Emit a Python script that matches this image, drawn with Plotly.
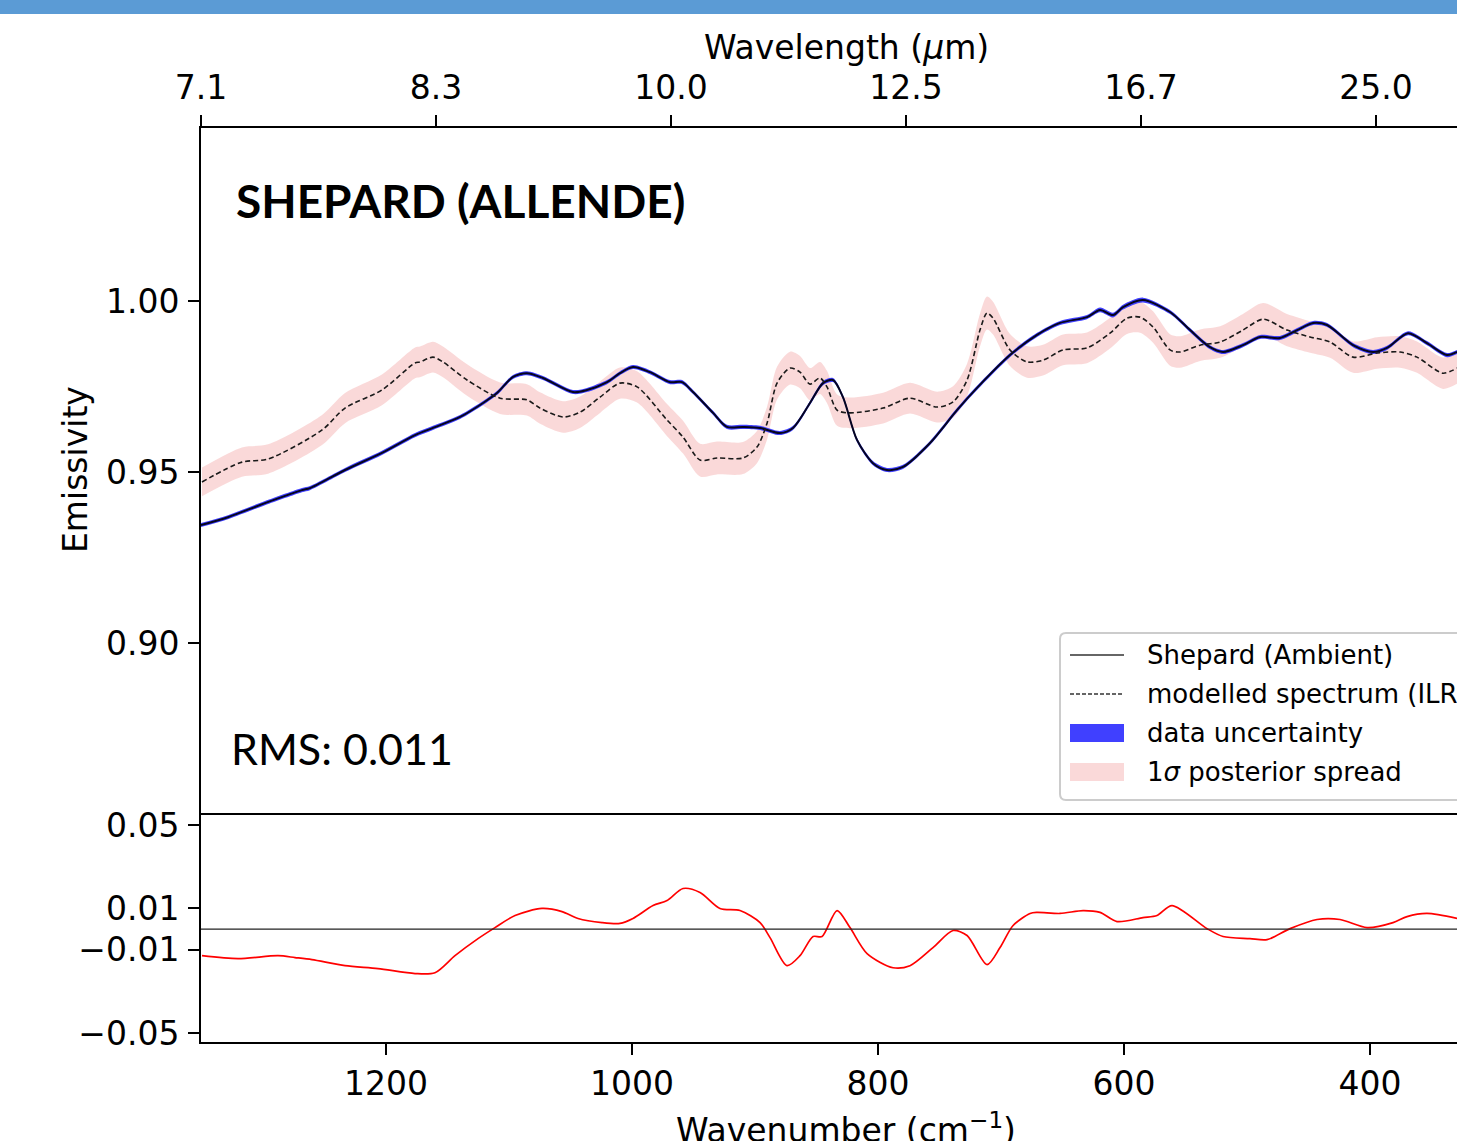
import plotly.graph_objects as go

# ---------------- data ----------------
wn_data = [1350.4, 1328.5, 1298.4, 1268.3, 1261.8, 1233.3, 1203.3, 1176.4, 1161.8, 1139.8,
           1121.1, 1109.8, 1096.7, 1085.4, 1072.4, 1048.0, 1036.6, 1020.3, 1009.8, 999.2,
           985.4, 969.1, 959.3, 950.4, 934.1, 922.8, 909.8, 895.9, 879.7, 869.1,
           855.3, 844.7, 836.6, 828.5, 817.1, 804.1, 792.7, 779.7, 757.7, 735.8,
           719.5, 692.7, 670.7, 652.0, 630.1, 619.5, 608.9, 600.8, 584.6, 562.6,
           546.3, 530.1, 519.5, 503.3, 489.4, 473.2, 459.3, 446.3, 434.9, 413.8,
           397.6, 386.2, 369.1, 353.7, 337.4, 329.3]
emis_data = [0.9345, 0.9368, 0.9409, 0.9447, 0.9453, 0.9506, 0.9556, 0.9608, 0.9629, 0.9661,
             0.9702, 0.9731, 0.9778, 0.9789, 0.9775, 0.9734, 0.9740, 0.9763, 0.9789, 0.9807,
             0.9792, 0.9763, 0.9763, 0.9734, 0.9673, 0.9632, 0.9632, 0.9629, 0.9614, 0.9629,
             0.9702, 0.9760, 0.9769, 0.9719, 0.9594, 0.9526, 0.9506, 0.9515, 0.9585, 0.9681,
             0.9746, 0.9842, 0.9901, 0.9936, 0.9953, 0.9974, 0.9959, 0.9982, 1.0003, 0.9968,
             0.9915, 0.9865, 0.9851, 0.9871, 0.9895, 0.9892, 0.9915, 0.9936, 0.9930, 0.9871,
             0.9851, 0.9863, 0.9906, 0.9877, 0.9842, 0.9851]
data_err = [0.0006, 0.0006, 0.0006, 0.0006, 0.0006, 0.0006, 0.0006, 0.0006, 0.0006, 0.0006,
            0.0006, 0.0006, 0.0006, 0.0006, 0.0006, 0.0006, 0.0006, 0.0006, 0.0006, 0.0006,
            0.0006, 0.0006, 0.0006, 0.0006, 0.0006, 0.0006, 0.0006, 0.0006, 0.0006, 0.0006,
            0.0006, 0.0006, 0.0006, 0.0006, 0.0006, 0.0006, 0.0006, 0.0006, 0.0006, 0.0006,
            0.0006, 0.0006, 0.0006, 0.0006, 0.0006, 0.0007, 0.0007, 0.0007, 0.0007, 0.0006,
            0.0006, 0.0006, 0.0006, 0.0006, 0.0006, 0.0006, 0.0006, 0.0006, 0.0006, 0.0006,
            0.0006, 0.0006, 0.0006, 0.0006, 0.0006, 0.0006]

wn_model = [1349.6, 1317.1, 1295.9, 1252.0, 1233.3, 1203.3, 1176.4, 1172.4, 1161.8, 1153.7,
            1134.1, 1107.3, 1085.4, 1074.8, 1056.1, 1042.3, 1026.0, 1009.8, 995.9, 971.5,
            958.5, 944.7, 930.9, 909.8, 898.4, 890.2, 882.1, 871.5, 863.4, 855.3,
            847.2, 841.5, 833.3, 822.8, 795.9, 774.0, 752.0, 739.0, 727.6, 717.1,
            711.4, 706.5, 692.7, 678.9, 665.9, 649.6, 630.1, 611.4, 597.6, 587.0,
            576.4, 562.6, 554.5, 538.2, 521.9, 503.3, 487.0, 467.5, 448.8, 432.5,
            413.8, 394.3, 375.6, 361.8, 340.7, 329.3]
emis_model = [0.9471, 0.9529, 0.9538, 0.9623, 0.9687, 0.9740, 0.9819, 0.9822, 0.9836, 0.9822,
              0.9769, 0.9716, 0.9711, 0.9687, 0.9661, 0.9675, 0.9719, 0.9760, 0.9749, 0.9652,
              0.9602, 0.9535, 0.9541, 0.9541, 0.9573, 0.9643, 0.9760, 0.9804, 0.9792, 0.9757,
              0.9775, 0.9749, 0.9681, 0.9673, 0.9687, 0.9716, 0.9690, 0.9705, 0.9769, 0.9915,
              0.9965, 0.9950, 0.9857, 0.9822, 0.9827, 0.9857, 0.9863, 0.9906, 0.9950, 0.9953,
              0.9924, 0.9857, 0.9851, 0.9871, 0.9880, 0.9915, 0.9947, 0.9915, 0.9895, 0.9880,
              0.9836, 0.9848, 0.9851, 0.9836, 0.9789, 0.9804]
model_spread = [0.0042, 0.0043, 0.0043, 0.0044, 0.0044, 0.0045, 0.0045, 0.0045, 0.0045, 0.0045,
                0.0046, 0.0046, 0.0046, 0.0046, 0.0046, 0.0046, 0.0046, 0.0046, 0.0046, 0.0047,
                0.0048, 0.0048, 0.0048, 0.0047, 0.0047, 0.0048, 0.0048, 0.0048, 0.0047, 0.0047,
                0.0047, 0.0047, 0.0046, 0.0045, 0.0045, 0.0045, 0.0045, 0.0046, 0.0048, 0.0048,
                0.0048, 0.0048, 0.0047, 0.0046, 0.0045, 0.0045, 0.0045, 0.0045, 0.0046, 0.0046,
                0.0046, 0.0046, 0.0046, 0.0046, 0.0046, 0.0047, 0.0047, 0.0047, 0.0046, 0.0046,
                0.0046, 0.0046, 0.0046, 0.0046, 0.0046, 0.0046]

wn_res = [1349.6, 1320.3, 1287.8, 1274.0, 1260.2, 1233.3, 1206.5, 1176.4, 1160.2, 1143.9,
          1125.2, 1111.4, 1095.1, 1073.2, 1056.9, 1043.9, 1024.4, 1009.8, 999.2, 982.9,
          971.5, 958.5, 944.7, 928.5, 912.2, 895.9, 887.8, 874.0, 863.4, 852.8,
          845.5, 833.3, 822.8, 808.9, 787.8, 774.0, 755.3, 739.0, 727.6, 711.4,
          700.8, 690.2, 676.4, 670.7, 652.0, 633.3, 619.5, 605.7, 584.6, 573.2,
          561.0, 532.5, 519.5, 497.6, 483.7, 465.0, 443.1, 424.4, 402.4, 381.3,
          369.9, 353.7, 329.3]
residual = [-0.0128, -0.0142, -0.0128, -0.0137, -0.0147, -0.0176, -0.0190, -0.0214, -0.0210, -0.0128,
            -0.0046, 0.0007, 0.0065, 0.0099, 0.0084, 0.0051, 0.0031, 0.0027, 0.0051, 0.0113,
            0.0137, 0.0195, 0.0176, 0.0099, 0.0089, 0.0031, -0.0041, -0.0176, -0.0128, -0.0036,
            -0.0036, 0.0089, 0.0007, -0.0118, -0.0186, -0.0176, -0.0089, -0.0007, -0.0031, -0.0171,
            -0.0089, 0.0017, 0.0075, 0.0080, 0.0075, 0.0089, 0.0080, 0.0036, 0.0055, 0.0065,
            0.0113, 0.0002, -0.0036, -0.0046, -0.0051, 0.0002, 0.0046, 0.0046, 0.0007, 0.0031,
            0.0060, 0.0075, 0.0051]

wn_ticks = [1200, 1000, 800, 600, 400]
wl_tick_pos = [1400, 1200, 1000, 800, 600, 400]
wl_tick_text = ["7.1", "8.3", "10.0", "12.5", "16.7", "25.0"]
main_ticks = [0.90, 0.95, 1.00]
main_tick_text = ["0.90", "0.95", "1.00"]
res_ticks = [0.05, 0.01, -0.01, -0.05]
res_tick_text = ["0.05", "0.01", "\u22120.01", "\u22120.05"]

legend_labels = ["Shepard (Ambient)", "modelled spectrum (ILR)", "data uncertainty",
                 "1<i>\u03c3</i> posterior spread"]

# ---------------- figure ----------------
W, H = 1457, 1141
ML, MR, MT, MB = 201, 0, 128, 99
PW, PH = W - ML - MR, H - MT - MB
split = 229 / PH

def px_x(x):
    return (x - ML) / PW

def px_y(y):
    return (H - MB - y) / PH

AX_FONT = dict(family="DejaVu Sans", size=33, color="black")
BLUE_BAND = "rgba(64,64,255,1)"
PINK_BAND = "rgba(240,128,128,0.3)"

fig = go.Figure()

m_lo = [m - s for m, s in zip(emis_model, model_spread)]
m_hi = [m + s for m, s in zip(emis_model, model_spread)]
d_lo = [d - e for d, e in zip(emis_data, data_err)]
d_hi = [d + e for d, e in zip(emis_data, data_err)]

fig.add_trace(go.Scatter(x=wn_model, y=m_lo, mode="lines", line=dict(width=0, shape="spline", smoothing=0.8),
                         showlegend=False, hoverinfo="skip", xaxis="x", yaxis="y"))
fig.add_trace(go.Scatter(x=wn_model, y=m_hi, mode="lines", line=dict(width=0, shape="spline", smoothing=0.8),
                         fill="tonexty", fillcolor=PINK_BAND, showlegend=False, name="1σ posterior spread",
                         xaxis="x", yaxis="y"))
fig.add_trace(go.Scatter(x=wn_data, y=d_lo, mode="lines", line=dict(width=0, shape="spline", smoothing=0.8),
                         showlegend=False, hoverinfo="skip", xaxis="x", yaxis="y"))
fig.add_trace(go.Scatter(x=wn_data, y=d_hi, mode="lines", line=dict(width=0, shape="spline", smoothing=0.8),
                         fill="tonexty", fillcolor=BLUE_BAND, showlegend=False, name="data uncertainty",
                         xaxis="x", yaxis="y"))
fig.add_trace(go.Scatter(x=wn_data, y=emis_data, mode="lines", name="Shepard (Ambient)",
                         line=dict(color="#05051e", width=2, shape="spline", smoothing=0.8),
                         showlegend=False, xaxis="x", yaxis="y"))
fig.add_trace(go.Scatter(x=wn_model, y=emis_model, mode="lines", name="modelled spectrum (ILR)",
                         line=dict(color="#1a1a1a", width=1.6, dash="5px,3px", shape="spline", smoothing=0.8),
                         showlegend=False, xaxis="x", yaxis="y"))
fig.add_trace(go.Scatter(x=wn_res, y=residual, mode="lines", name="residual",
                         line=dict(color="red", width=1.7, shape="spline", smoothing=0.8),
                         showlegend=False, xaxis="x2", yaxis="y2"))
# invisible trace to activate the top axis
fig.add_trace(go.Scatter(x=[1400, 331.06], y=[None, None], mode="lines", showlegend=False,
                         hoverinfo="skip", xaxis="x3", yaxis="y"))

common_axis = dict(showgrid=False, zeroline=False, showline=True, linecolor="black", linewidth=2,
                   ticks="outside", ticklen=11, tickwidth=2, tickcolor="black", tickfont=AX_FONT)

fig.update_layout(
    width=W, height=H,
    margin=dict(l=ML, r=MR, t=MT, b=MB, autoexpand=False),
    paper_bgcolor="white", plot_bgcolor="white",
    showlegend=False,
    xaxis=dict(range=[1350.4, 329.3], domain=[0, 1], anchor="y", showticklabels=False,
               showgrid=False, zeroline=False, showline=True, linecolor="black", linewidth=2, ticks=""),
    xaxis2=dict(range=[1350.4, 329.3], domain=[0, 1], anchor="y2", tickmode="array",
                tickvals=wn_ticks, ticktext=[str(v) for v in wn_ticks], **common_axis),
    xaxis3=dict(range=[1400, 331.06], overlaying="x", side="top", anchor="y", tickmode="array",
                tickvals=wl_tick_pos, ticktext=wl_tick_text, ticklabelstandoff=3, **common_axis),
    yaxis=dict(range=[0.8503, 1.0506], domain=[split, 1], anchor="x", tickmode="array",
               tickvals=main_ticks, ticktext=main_tick_text, ticklabelstandoff=2, **common_axis),
    yaxis2=dict(range=[-0.0543, 0.0558], domain=[0, split], anchor="x2", tickmode="array",
                tickvals=res_ticks, ticktext=res_tick_text, ticklabelstandoff=2, **common_axis),
)

shapes = [
    # blue strip at top of image
    dict(type="rect", xref="paper", yref="paper", x0=px_x(0), x1=px_x(W), y0=px_y(14), y1=px_y(0),
         fillcolor="#5b9bd5", line=dict(width=0), layer="above"),
    # zero line of residual panel
    dict(type="line", xref="paper", yref="y2", x0=0, x1=1, y0=0, y1=0,
         line=dict(color="#222222", width=1.3)),
]

# manual legend
lx0, lx1, ly0, ly1 = 1060, 1520, 633, 800
r = 6
rx, ry = r / PW, r / PH
X0, X1, Y0, Y1 = px_x(lx0), px_x(lx1), px_y(ly1), px_y(ly0)
path = (f"M {X0+rx},{Y0} L {X1-rx},{Y0} Q {X1},{Y0} {X1},{Y0+ry} L {X1},{Y1-ry} Q {X1},{Y1} {X1-rx},{Y1} "
        f"L {X0+rx},{Y1} Q {X0},{Y1} {X0},{Y1-ry} L {X0},{Y0+ry} Q {X0},{Y0} {X0+rx},{Y0} Z")
shapes.append(dict(type="path", xref="paper", yref="paper", path=path,
                   fillcolor="rgba(255,255,255,0.85)", line=dict(color="#cccccc", width=2), layer="above"))
rows = [655, 694, 733, 772]
sx0, sx1 = 1070, 1124
shapes.append(dict(type="line", xref="paper", yref="paper", x0=px_x(sx0), x1=px_x(sx1),
                   y0=px_y(rows[0]), y1=px_y(rows[0]), line=dict(color="#333333", width=1.6), layer="above"))
shapes.append(dict(type="line", xref="paper", yref="paper", x0=px_x(sx0), x1=px_x(sx1),
                   y0=px_y(rows[1]), y1=px_y(rows[1]), line=dict(color="#333333", width=1.6, dash="4px,2px"),
                   layer="above"))
shapes.append(dict(type="rect", xref="paper", yref="paper", x0=px_x(sx0), x1=px_x(sx1),
                   y0=px_y(rows[2] + 9), y1=px_y(rows[2] - 9), fillcolor=BLUE_BAND, line=dict(width=0),
                   layer="above"))
shapes.append(dict(type="rect", xref="paper", yref="paper", x0=px_x(sx0), x1=px_x(sx1),
                   y0=px_y(rows[3] + 9), y1=px_y(rows[3] - 9), fillcolor="#fad9d9", line=dict(width=0),
                   layer="above"))
fig.update_layout(shapes=shapes)

annotations = [
    dict(text="<b>SHEPARD (ALLENDE)</b>", x=px_x(234), y=px_y(200), xanchor="left", yanchor="middle",
         font=dict(family="Lato", size=46, color="black")),
    dict(text="RMS: 0.011", x=px_x(229), y=px_y(748), xanchor="left", yanchor="middle",
         font=dict(family="Lato", size=43, color="black")),
    dict(text="Emissivity", x=px_x(75), y=px_y(470), xanchor="center", yanchor="middle", textangle=-90,
         font=dict(family="DejaVu Sans", size=33, color="black")),
    dict(text="Wavelength (<i>\u03bc</i>m)", x=px_x(846), y=px_y(48), xanchor="center", yanchor="middle",
         font=dict(family="DejaVu Sans", size=33, color="black")),
    dict(text="Wavenumber (cm<sup>\u22121</sup>)", x=px_x(846), y=px_y(1128), xanchor="center",
         yanchor="middle", font=dict(family="DejaVu Sans", size=33, color="black")),
]
for lab, yy in zip(legend_labels, rows):
    annotations.append(dict(text=lab, x=px_x(1145), y=px_y(yy), xanchor="left", yanchor="middle",
                            font=dict(family="DejaVu Sans", size=26, color="black")))
for a in annotations:
    a.update(xref="paper", yref="paper", showarrow=False)
fig.update_layout(annotations=annotations)

fig.write_html("out.html", config={"displayModeBar": False},
               post_script="document.body.style.margin='0';")
